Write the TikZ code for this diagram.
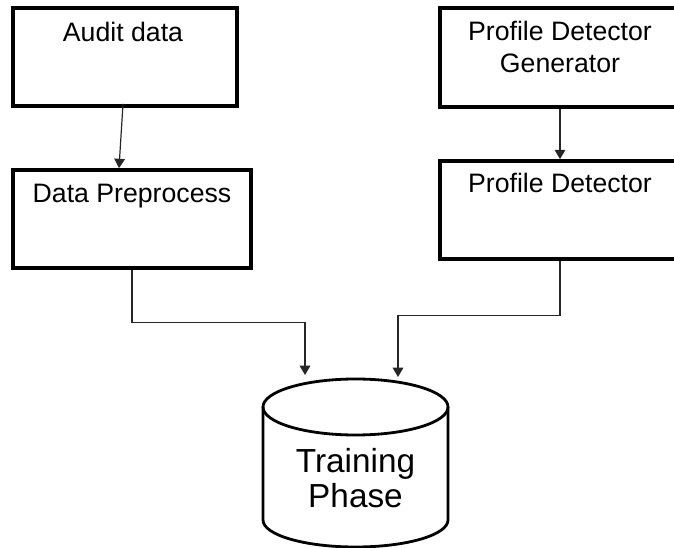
\documentclass[tikz,border=0pt]{standalone}
\usepackage{fontspec}
\setmainfont{Liberation Sans}
\usetikzlibrary{arrows.meta}
\begin{document}
\begin{tikzpicture}[x=0.75pt,y=-0.75pt,
  stepbox/.style={draw, line width=2.8pt, rectangle, inner sep=0pt},
  boxtext/.style={anchor=base, inner sep=0pt, align=center,
    font=\fontsize{20}{24}\selectfont},
  conn/.style={line width=0.9pt, draw=black!85,
    -{Triangle[length=7pt,width=8pt]}},
  cylline/.style={line width=2.1pt}]
\useasboundingbox (0,0) rectangle (674,548);
\clip (0,0) rectangle (674,548);

% left column
\node[stepbox, minimum width=224*0.75pt, minimum height=98*0.75pt] (ad) at (125,57) {};
\node[boxtext] (adt) at (123,42) {Audit data};
\node[stepbox, minimum width=238*0.75pt, minimum height=98*0.75pt] (dp) at (132,219) {};
\node[boxtext] (dpt) at (132,203) {Data Preprocess};

% right column (boxes run past the right edge)
\node[stepbox, minimum width=240*0.75pt, minimum height=99*0.75pt] (pg) at (560,57.5) {};
\node[boxtext] (pgt) at (560,73) {Profile Detector\\Generator};
\node[stepbox, minimum width=240*0.75pt, minimum height=98*0.75pt] (pd) at (560,210) {};
\node[boxtext] (pdt) at (560,193) {Profile Detector};

% training store drawn as a cylinder
\draw[cylline] (263,407) -- (263,520)
  arc[start angle=180, end angle=0, x radius=92.5, y radius=27] -- (448,407);
\draw[cylline] (355.5,407) ellipse [x radius=92.5, y radius=28];
\coordinate (cyl) at (355.5,379);
\node[align=center, inner sep=0pt, font=\fontsize{25}{26.5}\selectfont] (tp) at (355.5,478) {Training\\Phase};

% connectors
\draw[conn] ([shift={(-2,-4)}]ad.south) -- ([shift={(-13,0)}]dp.north);
\draw[conn] (pg.south) -- (pd.north);
\draw[conn] (dp.south) -- ++(0,53) -| ([shift={(-50.5,-4)}]cyl);
\draw[conn] (pd.south) -- ++(0,55) -| ([shift={(42.5,-2)}]cyl);
\end{tikzpicture}
\end{document}
